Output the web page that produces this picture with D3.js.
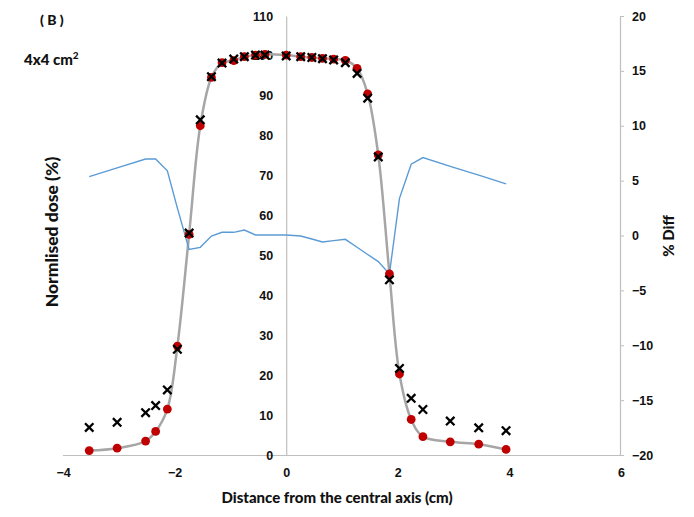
<!DOCTYPE html>
<html>
<head>
<meta charset="utf-8">
<script src="https://cdn.jsdelivr.net/npm/d3@7/dist/d3.min.js"></script>
<style>
  html, body { margin: 0; padding: 0; background: #fff; }
  svg { display: block; font-family: Lato, "Open Sans", sans-serif; }
</style>
</head>
<body>
<svg id="chart" width="694" height="517"></svg>
<script>
// ---- data ----
const distance = [-3.53,-3.03,-2.52,-2.34,-2.13,-1.95,-1.74,-1.54,-1.34,-1.15,-0.94,-0.75,-0.55,-0.38,0,0.26,0.46,0.65,0.85,1.06,1.27,1.46,1.65,1.85,2.03,2.24,2.45,2.94,3.45,3.94];
const measured = [1.1,1.7,3.5,5.9,11.5,27.3,55.3,82.5,94.6,98.3,98.8,99.8,100.2,100.4,100.2,99.8,99.6,99.4,99.2,98.9,96.9,90.5,75.2,45.4,20.3,8.9,4.6,3.3,2.7,1.4];
const calculated = [6.9,8.2,10.6,12.4,16.3,26.5,55.6,84.0,94.8,98.2,99.2,99.8,100.2,100.2,100.0,99.8,99.6,99.3,99.0,98.3,95.6,89.4,74.7,43.9,21.7,14.2,11.4,8.5,6.8,6.1];
const diff = [5.36,6.16,6.97,6.97,5.9,2.5,-1.26,-1.08,-0.05,0.29,0.29,0.5,0.05,0.05,0.05,-0.05,-0.32,-0.59,-0.47,-0.35,-1.07,-1.73,-2.38,-3.5,3.39,6.5,7.1,6.3,5.5,4.7];
const xTicks = [-4,-2,0,2,4,6];
const yTicks = [0,10,20,30,40,50,60,70,80,90,100,110];
const y2Ticks = [-20,-15,-10,-5,0,5,10,15,20];

const svg = d3.select("#chart");
const x = d3.scaleLinear().domain([-4, 6]).range([63, 621]);
const y = d3.scaleLinear().domain([0, 110]).range([455, 16]);
const y2 = d3.scaleLinear().domain([-20, 20]).range([455, 16]);

const axisColor = "#bfbfbf";
const textColor = "#111";

// x axis at y=0
const gx = svg.append("g").attr("transform", `translate(0,${y(0)})`)
  .call(d3.axisBottom(x).tickValues(xTicks).tickSize(0).tickPadding(13).tickFormat(d3.format("d")));
// left axis at x=0
const gy = svg.append("g").attr("transform", `translate(${x(0)},0)`)
  .call(d3.axisLeft(y).tickValues(yTicks).tickSize(0).tickPadding(13));
// right axis
const gy2 = svg.append("g").attr("transform", `translate(${x(6) - 1},0)`)
  .call(d3.axisRight(y2).tickValues(y2Ticks).tickSize(4).tickPadding(8).tickFormat(d3.format("d")));

[gx, gy, gy2].forEach(g => {
  g.select(".domain").attr("stroke", axisColor).attr("stroke-width", 1.2);
  g.selectAll(".tick line").attr("stroke", axisColor);
  g.selectAll(".tick text").attr("fill", textColor).attr("font-size", 12.5).attr("font-weight", 900);
});
gx.select(".domain").attr("d", `M${x(-4)},0.5H${x(6) - 1}`);

// smooth grey line through measured points
const pts = distance.map((d, i) => ({x: d, m: measured[i], c: calculated[i], p: diff[i]}));
svg.append("path").datum(pts)
  .attr("fill", "none").attr("stroke", "#a6a6a6").attr("stroke-width", 2.5)
  .attr("d", d3.line().x(d => x(d.x)).y(d => y(d.m)).curve(d3.curveCatmullRom.alpha(0.5)));

// % diff line (right axis)
svg.append("path").datum(pts)
  .attr("fill", "none").attr("stroke", "#5b9bd5").attr("stroke-width", 1.4)
  .attr("d", d3.line().x(d => x(d.x)).y(d => y2(d.p)));

// measured red dots
svg.append("g").selectAll("circle").data(pts).join("circle")
  .attr("cx", d => x(d.x)).attr("cy", d => y(d.m)).attr("r", 4.4)
  .attr("fill", "#c00000");

// calculated X markers
const s = 4.2;
svg.append("g").selectAll("path").data(pts).join("path")
  .attr("transform", d => `translate(${x(d.x)},${y(d.c)})`)
  .attr("d", `M${-s},${-s}L${s},${s}M${-s},${s}L${s},${-s}`)
  .attr("stroke", "#000").attr("stroke-width", 2.3).attr("fill", "none");

// titles
svg.append("text").attr("x", 337).attr("y", 503)
  .attr("text-anchor", "middle").attr("font-size", 15).attr("font-weight", 900).attr("fill", textColor)
  .text("Distance from the central axis (cm)");
svg.append("text").attr("transform", "translate(58,232) rotate(-90)")
  .attr("text-anchor", "middle").attr("font-size", 17.5).attr("font-weight", 900).attr("fill", textColor)
  .text("Normlised dose (%)");
svg.append("text").attr("transform", "translate(674,236) rotate(-90)")
  .attr("text-anchor", "middle").attr("font-size", 15).attr("font-weight", 900).attr("fill", textColor)
  .text("% Diff");
svg.append("text").attr("x", 40).attr("y", 25)
  .attr("font-size", 14).attr("font-weight", 900).attr("fill", textColor)
  .text("( B )");
const t = svg.append("text").attr("x", 24).attr("y", 65)
  .attr("font-size", 15).attr("font-weight", 900).attr("fill", textColor);
t.append("tspan").text("4x4 cm");
t.append("tspan").attr("dy", -6).attr("font-size", 10).text("2");
</script>
</body>
</html>
